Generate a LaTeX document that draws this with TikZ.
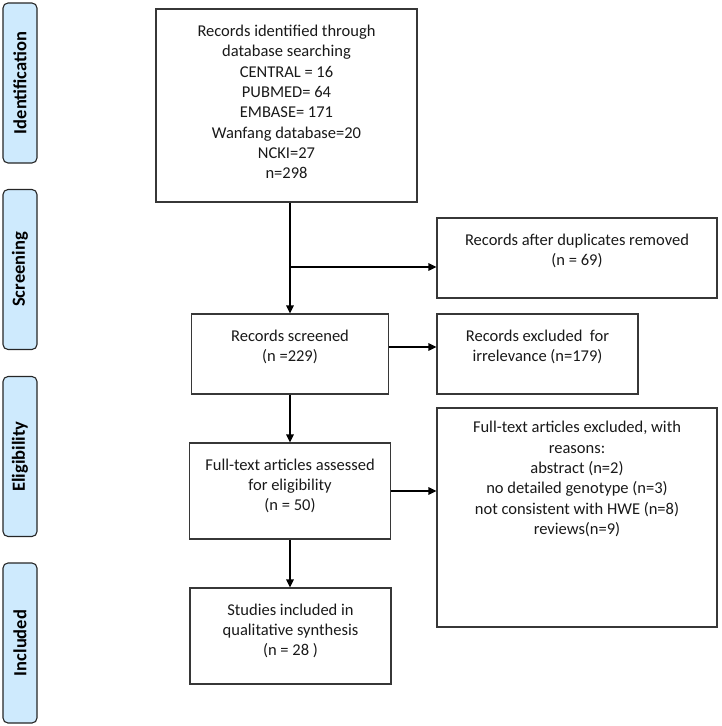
\documentclass[tikz,border=0pt]{standalone}
\usepackage{fontspec}
\setmainfont{Carlito}
\usetikzlibrary{arrows.meta}
\definecolor{sidefill}{RGB}{206,234,253}
\definecolor{boxline}{RGB}{55,55,55}
\tikzset{
  sidebox/.style={draw=black!85, line width=1.1pt, fill=sidefill, rounded corners=5pt,
    minimum width=34pt, minimum height=160pt, inner sep=0pt},
  sidelabel/.style={rotate=90, font=\fontsize{18.5}{20}\selectfont\bfseries, text=black},
  flowbox/.style={draw=boxline, line width=1.2pt, inner sep=0pt},
  flowtext/.style={align=center, font=\fontsize{16.5}{20.3}\selectfont, text=black!90, inner sep=0pt},
  flowarrow/.style={draw=black, line width=1.3pt, -{Triangle[length=8pt,width=7.5pt]}}
}
\begin{document}
\begin{tikzpicture}[x=1pt,y=-1pt]
\useasboundingbox (0,0) rectangle (721,726);
% side phase boxes
\node[sidebox] (sid) at (20,83) {};
\node[sidelabel] (sidt) at (sid.center) {Identification};
\node[sidebox] (sscr) at (20,269.5) {};
\node[sidelabel] (sscrt) at (sscr.center) {Screening};
\node[sidebox] (selg) at (20,456.5) {};
\node[sidelabel] (selgt) at (selg.center) {Eligibility};
\node[sidebox] (sinc) at (20,643) {};
\node[sidelabel] (sinct) at (sinc.center) {Included};
% main boxes
\node[flowbox, minimum width=261pt, minimum height=193pt] (ident) at (286.5,105.5) {};
\node[flowtext] (identt) at (286.5,102) {Records identified through\\database searching\\CENTRAL = 16\\PUBMED= 64\\EMBASE= 171\\Wanfang database=20\\NCKI=27\\n=298};
\node[flowbox, minimum width=280pt, minimum height=80pt] (dup) at (577,258) {};
\node[flowtext] (dupt) at (577,251) {Records after duplicates removed\\(n = 69)};
\node[flowbox, minimum width=197pt, minimum height=80pt] (scr) at (290,354) {};
\node[flowtext] (scrt) at (290,347) {Records screened\\(n =229)};
\node[flowbox, minimum width=201pt, minimum height=80pt] (exc) at (537.5,354) {};
\node[flowtext] (exct) at (537.5,347) {Records excluded\ \ for\\irrelevance (n=179)};
\node[flowbox, minimum width=201pt, minimum height=96pt] (full) at (290,491) {};
\node[flowtext] (fullt) at (290,486) {Full-text articles assessed\\for eligibility\\(n = 50)};
\node[flowbox, minimum width=280pt, minimum height=219pt] (fexc) at (577,517.5) {};
\node[flowtext] (fexct) at (577,479) {Full-text articles excluded, with\\reasons:\\abstract (n=2)\\no detailed genotype (n=3)\\not consistent with HWE (n=8)\\reviews(n=9)};
\node[flowbox, minimum width=201pt, minimum height=96pt] (stud) at (290.5,636) {};
\node[flowtext] (studt) at (290.5,631) {Studies included in\\qualitative synthesis\\(n = 28 )};
% connectors
\coordinate (br) at (290,267);
\draw[flowarrow] (ident.south -| scr.north) -- (scr.north);
\draw[flowarrow] (br) -- (br -| dup.west);
\draw[flowarrow] ([yshift=7pt]scr.east) -- ([yshift=7pt]scr.east -| exc.west);
\draw[flowarrow] (scr.south) -- (full.north);
\draw[flowarrow] (full.east) -- (full.east -| fexc.west);
\draw[flowarrow] (full.south) -- (full.south |- stud.north);
\end{tikzpicture}
\end{document}
